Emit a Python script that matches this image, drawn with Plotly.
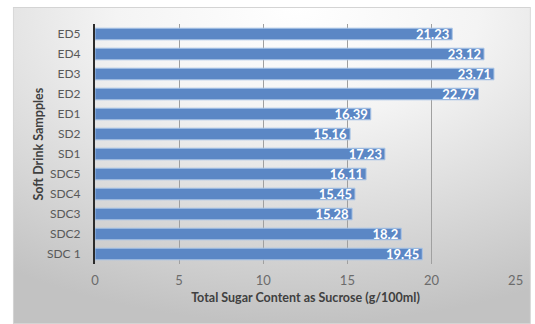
import base64
import plotly.graph_objects as go

# Soft drink samples (bottom to top) and their total sugar content
samples = ["SDC 1", "SDC2", "SDC3", "SDC4", "SDC5", "SD1", "SD2",
           "ED1", "ED2", "ED3", "ED4", "ED5"]
sugar = [19.45, 18.2, 15.28, 15.45, 16.11, 17.23, 15.16,
         16.39, 22.79, 23.71, 23.12, 21.23]
value_labels = ["19.45", "18.2", "15.28", "15.45", "16.11", "17.23", "15.16",
                "16.39", "22.79", "23.71", "23.12", "21.23"]
x_ticks = [0, 5, 10, 15, 20, 25]

W, H = 535, 324
L, R, T, B = 95, 15, 24, 60
pw, ph = W - L - R, H - T - B

# Radial gradient backdrop for the chart area
svg = f"""<svg xmlns='http://www.w3.org/2000/svg' width='523' height='317' viewBox='0 0 523 317' preserveAspectRatio='none'>
<defs><radialGradient id='g' cx='0.55' cy='0.0' r='1.0' fx='0.55' fy='0.0'>
<stop offset='0' stop-color='#ffffff'/><stop offset='0.35' stop-color='#f4f4f4'/>
<stop offset='1' stop-color='#c2c2c2'/></radialGradient></defs>
<rect x='0.5' y='0.5' width='522' height='316' fill='url(#g)' stroke='#d4d4d4' stroke-width='1'/>
</svg>"""
bg_uri = "data:image/svg+xml;base64," + base64.b64encode(svg.encode()).decode()

x0_px, y0_px, x1_px, y1_px = 12, 7, 535, 324
bg = dict(
    source=bg_uri, xref="paper", yref="paper",
    x=(x0_px - L) / pw, y=(H - B - y0_px) / ph,
    sizex=(x1_px - x0_px) / pw, sizey=(y1_px - y0_px) / ph,
    xanchor="left", yanchor="top", sizing="stretch", layer="below",
)

fig = go.Figure(go.Bar(
    x=sugar, y=samples, orientation="h",
    marker=dict(color="#5b87c5", line=dict(color="#a8c4e6", width=1)),
    text=value_labels, textposition="inside", insidetextanchor="end",
    constraintext="none",
    textfont=dict(color="white", size=13, family="Lato"),
    texttemplate="<b>%{text}</b>", cliponaxis=False,
))

fig.update_layout(
    width=W, height=H,
    margin=dict(l=L, r=R, t=T, b=B),
    paper_bgcolor="white", plot_bgcolor="rgba(0,0,0,0)",
    images=[bg], bargap=0.42, showlegend=False,
    font=dict(family="Lato", color="#595959"),
    annotations=[dict(
        text="<b>Soft Drink Sampples</b>", textangle=-90,
        xref="paper", yref="paper", x=(37 - L) / pw, y=0.5,
        xanchor="center", yanchor="middle", showarrow=False,
        font=dict(size=12.5, color="#404040"),
    )],
)
fig.update_xaxes(
    range=[0, 25.02], tickvals=x_ticks,
    ticks="outside", ticklen=4, tickcolor="rgba(0,0,0,0)",
    showgrid=True, gridcolor="#a0a0a0", gridwidth=1, zeroline=False,
    tickfont=dict(size=13, color="#6b6b6b"),
    title=dict(text="<b>Total Sugar Content as Sucrose (g/100ml)</b>",
               font=dict(size=12.5, color="#404040"), standoff=6),
)
fig.update_yaxes(
    categoryorder="array", categoryarray=samples,
    showline=True, linecolor="#2b2b2b", linewidth=2,
    ticks="outside", ticklen=10, tickcolor="rgba(0,0,0,0)",
    tickfont=dict(size=12, color="#595959"),
)

fig.write_html("out.html")
